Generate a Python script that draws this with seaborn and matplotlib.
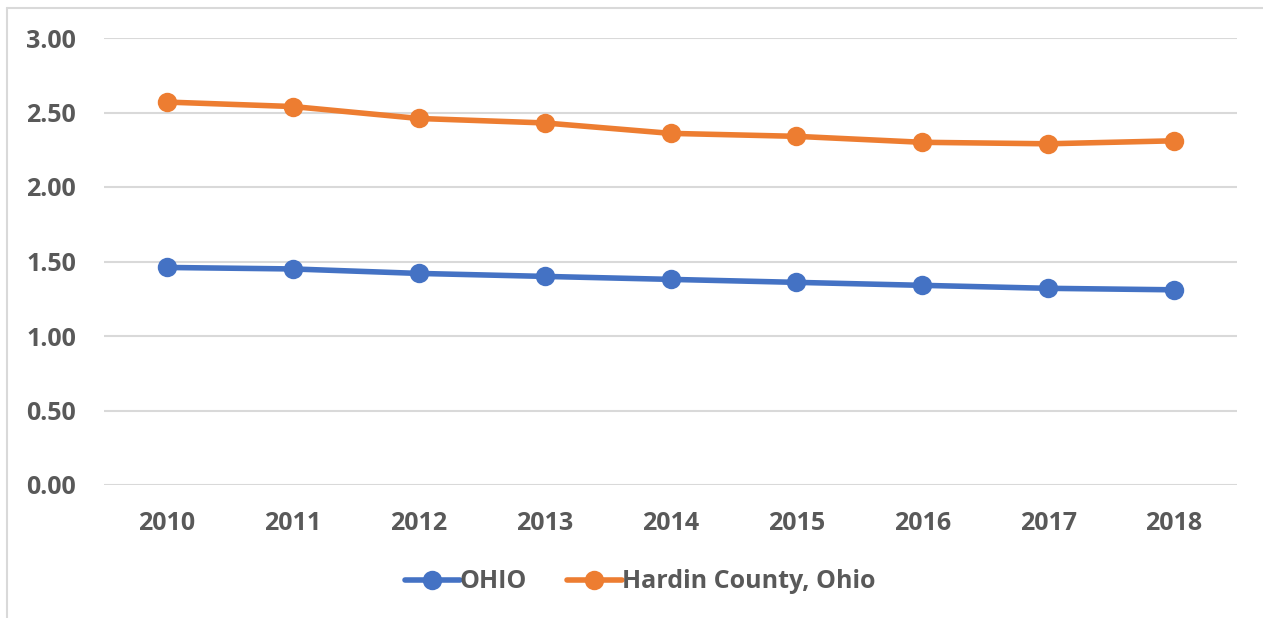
import pandas as pd
import seaborn as sns
import matplotlib.pyplot as plt
from matplotlib.lines import Line2D


# ======================================
# DATA
# ======================================

YEARS = ["2010", "2011", "2012", "2013", "2014", "2015", "2016", "2017", "2018"]

OHIO = [1.46, 1.45, 1.42, 1.40, 1.38, 1.36, 1.34, 1.32, 1.31]

HARDIN = [2.57, 2.54, 2.46, 2.43, 2.36, 2.34, 2.30, 2.29, 2.31]

SERIES = ["OHIO", "Hardin County, Ohio"]

COLORS = ["#4472C4", "#ED7D31"]


df = pd.DataFrame({
    "year": YEARS * 2,
    "value": OHIO + HARDIN,
    "series": [SERIES[0]] * len(YEARS) + [SERIES[1]] * len(YEARS)
})


# ======================================
# STYLE
# ======================================

sns.set_style("white")
plt.rcParams["font.family"] = ["Open Sans", "DejaVu Sans"]

TEXT_GREY = "#595959"


# ======================================
# CHART
# ======================================

fig = plt.figure(figsize=(12.63, 6.18), dpi=100)
ax = fig.add_axes([104 / 1263, 1 - 485 / 618, (1237 - 104) / 1263, (485 - 38) / 618])

sns.lineplot(
    data=df,
    x="year",
    y="value",
    hue="series",
    palette=COLORS,
    marker="o",
    markersize=14,
    markeredgewidth=0,
    linewidth=4,
    ax=ax,
    legend=False
)

ax.set_xlim(-0.5, len(YEARS) - 0.5)
ax.set_ylim(0, 3.0)
ax.set_yticks([0, 0.5, 1.0, 1.5, 2.0, 2.5, 3.0])
ax.set_yticklabels([f"{v:.2f}" for v in ax.get_yticks()])

ax.yaxis.grid(True, color="#D9D9D9", linewidth=1.5)
ax.set_axisbelow(True)
for side in ["top", "right", "left", "bottom"]:
    ax.spines[side].set_visible(False)

ax.tick_params(axis="both", length=0, labelsize=18, labelcolor=TEXT_GREY)
ax.tick_params(axis="x", pad=19)
ax.tick_params(axis="y", pad=20)
for lbl in ax.get_xticklabels() + ax.get_yticklabels():
    lbl.set_fontweight("bold")

ax.set_xlabel("")
ax.set_ylabel("")


# ======================================
# LEGEND
# ======================================

handles = [
    Line2D([0], [0], color=c, marker="o", markersize=14,
           markeredgewidth=0, linewidth=4)
    for c in COLORS
]

leg = fig.legend(
    handles,
    SERIES,
    loc="center",
    bbox_to_anchor=(640 / 1263, 1 - 582 / 618),
    ncol=2,
    frameon=False,
    handlelength=2.2,
    handletextpad=0.0,
    columnspacing=1.6,
    prop={"size": 18, "weight": "bold"}
)
for t in leg.get_texts():
    t.set_color(TEXT_GREY)


# ======================================
# CHART AREA BORDER
# ======================================

fig.add_artist(Line2D([7 / 1263, 7 / 1263], [0, 1 - 8 / 618],
                      transform=fig.transFigure, color="#D9D9D9", linewidth=1.5))
fig.add_artist(Line2D([7 / 1263, 1], [1 - 8 / 618, 1 - 8 / 618],
                      transform=fig.transFigure, color="#D9D9D9", linewidth=1.5))

fig.savefig("out.png", dpi=100)
